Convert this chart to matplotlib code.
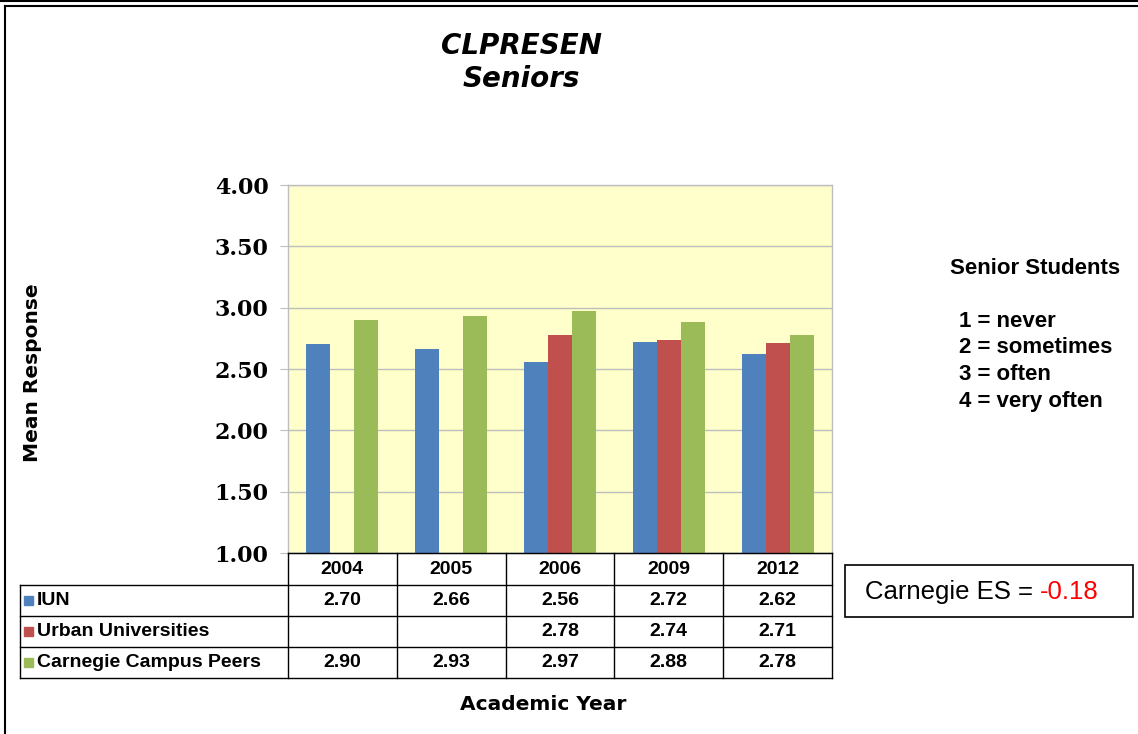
import numpy as np
import matplotlib.pyplot as plt
from matplotlib.lines import Line2D
from matplotlib.patches import Rectangle

# data
years = ['2004', '2005', '2006', '2009', '2012']
series = ['IUN', 'Urban Universities', 'Carnegie Campus Peers']
iun = [2.70, 2.66, 2.56, 2.72, 2.62]
urban = [np.nan, np.nan, 2.78, 2.74, 2.71]
peers = [2.90, 2.93, 2.97, 2.88, 2.78]
colors = ['#4F81BD', '#C0504D', '#9BBB59']
scale_lines = ['1 = never', '2 = sometimes', '3 = often', '4 = very often']
es_value = '-0.18'

W, H = 1138, 734
fig = plt.figure(figsize=(W / 100, H / 100), dpi=100)

def fx(x):
    return x / W

def fy(y):
    return 1 - y / H

# plot area in pixels
L, R, T, B = 288, 832, 185, 553
ax = fig.add_axes([fx(L), fy(B), fx(R - L), fy(T) - fy(B)])
ax.set_facecolor('#FFFFCC')

x = np.arange(len(years))
w = 0.22
for i, vals in enumerate([iun, urban, peers]):
    ax.bar(x + (i - 1) * w, np.array(vals, dtype=float) - 1.0, w, bottom=1.0,
           color=colors[i], zorder=3)

ax.set_xlim(-0.5, len(years) - 0.5)
ax.set_ylim(1.0, 4.0)
ax.set_yticks(np.arange(1.0, 4.01, 0.5))
ax.set_yticklabels([f'{v:.2f}' for v in np.arange(1.0, 4.01, 0.5)],
                   family='DejaVu Serif', fontweight='bold', fontsize=16)
ax.set_xticks([])
ax.yaxis.grid(True, color='#BEBEBE', linewidth=1.0, zorder=1)
ax.tick_params(axis='y', length=6, color='#BEBEBE', pad=8)
for s in ax.spines.values():
    s.set_color('#BEBEBE')
    s.set_linewidth(1.0)

# table below the plot
col_w = (R - L) / len(years)
row_h = [32, 31, 31, 31]
y0 = B
rows_y = [y0]
for h in row_h:
    rows_y.append(rows_y[-1] + h)
tab_left = 20
lc = 'black'

def hline(y, x1, x2):
    fig.add_artist(Line2D([fx(x1), fx(x2)], [fy(y), fy(y)], color=lc, lw=1.0))

def vline(x, y1, y2):
    fig.add_artist(Line2D([fx(x), fx(x)], [fy(y1), fy(y2)], color=lc, lw=1.0))

tfont = dict(family='Liberation Sans', fontweight='bold', fontsize=14)

# header row
hline(rows_y[0], L, R)
for i in range(len(years) + 1):
    vline(L + i * col_w, rows_y[0], rows_y[-1])
for i, yr in enumerate(years):
    fig.text(fx(L + (i + 0.5) * col_w), fy((rows_y[0] + rows_y[1]) / 2), yr,
             ha='center', va='center', **tfont)
for yy in rows_y[1:]:
    hline(yy, tab_left, R)
vline(tab_left, rows_y[1], rows_y[-1])

for r, (name, vals) in enumerate(zip(series, [iun, urban, peers])):
    yc = (rows_y[r + 1] + rows_y[r + 2]) / 2
    fig.add_artist(Rectangle((fx(24), fy(yc + 4.5)), fx(9), fy(yc - 4.5) - fy(yc + 4.5),
                             color=colors[r]))
    fig.text(fx(37), fy(yc), name, ha='left', va='center', **tfont)
    for i, v in enumerate(vals):
        if not np.isnan(v):
            fig.text(fx(L + (i + 0.5) * col_w), fy(yc), f'{v:.2f}',
                     ha='center', va='center', **tfont)

# titles and labels
fig.text(fx(522), fy(46), 'CLPRESEN', ha='center', va='center',
         fontsize=20, fontweight='bold', style='italic')
fig.text(fx(521), fy(79), 'Seniors', ha='center', va='center',
         fontsize=20, fontweight='bold', style='italic')
fig.text(fx(33), fy(373), 'Mean Response', rotation=90, ha='center', va='center',
         fontsize=14.5, fontweight='bold')
fig.text(fx(543), fy(705), 'Academic Year', ha='center', va='center',
         fontsize=14.5, fontweight='bold')

# scale legend on the right
rfont = dict(family='Liberation Sans', fontweight='bold', fontsize=16)
fig.text(fx(1035), fy(268), 'Senior Students', ha='center', va='center', **rfont)
for k, s in enumerate(scale_lines):
    fig.text(fx(959), fy(321 + k * 26.7), s, ha='left', va='center', **rfont)

# effect size box
fig.add_artist(Rectangle((fx(845), fy(617)), fx(1133 - 845), fy(565) - fy(617),
                         fill=False, edgecolor='black', lw=1.2))
t1 = fig.text(fx(865), fy(592), 'Carnegie ES = ', ha='left', va='center',
              family='Liberation Sans', fontsize=18.5)
fig.canvas.draw()
bb = t1.get_window_extent()
fig.text(bb.x1 / W, fy(592), es_value, ha='left', va='center',
         family='Liberation Sans', fontsize=18.5, color='red')

# outer frame
fig.add_artist(Line2D([0, 1], [fy(1), fy(1)], color='black', lw=1.5))
fig.add_artist(Line2D([fx(5), 1], [fy(6), fy(6)], color='black', lw=1.5))
fig.add_artist(Line2D([fx(5), fx(5)], [fy(6), 0], color='black', lw=1.5))

fig.savefig('out.png', dpi=100)
